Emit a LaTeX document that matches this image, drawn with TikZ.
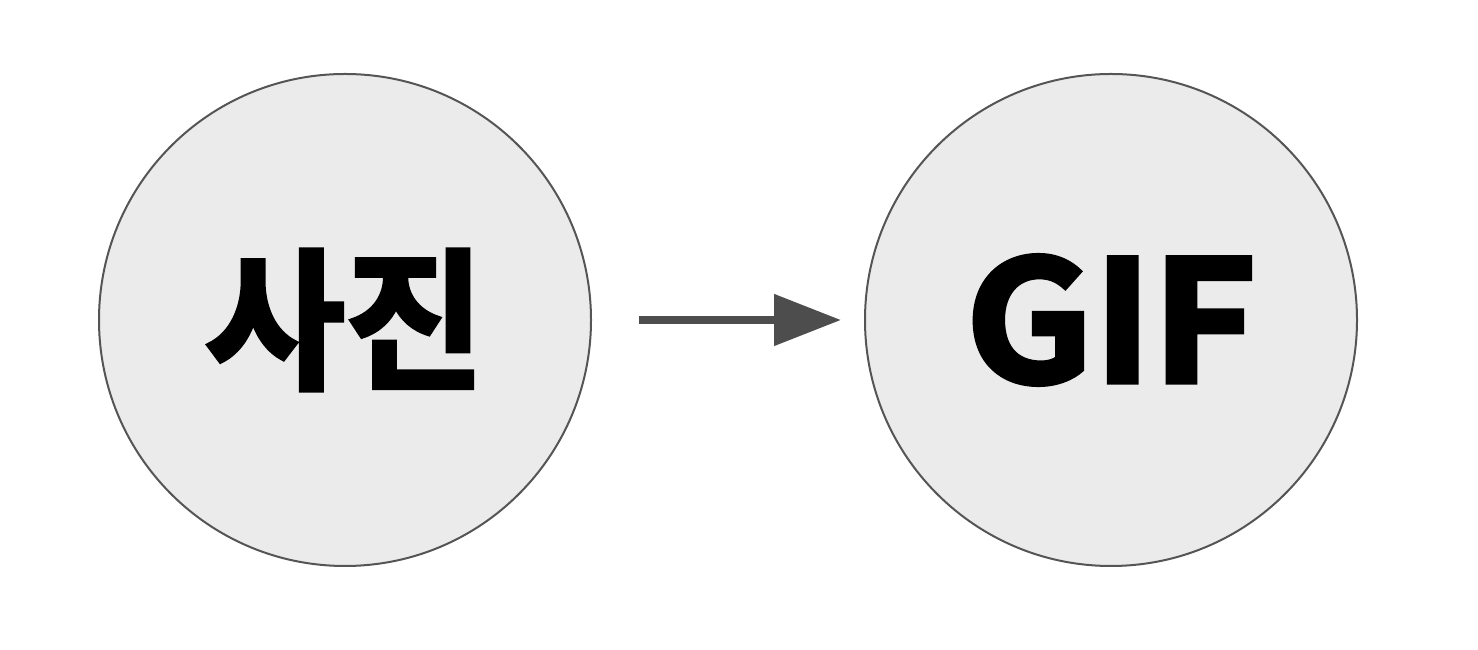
\documentclass[tikz,border=0pt]{standalone}
\usepackage{fontspec}
\usepackage{xcolor}
\usetikzlibrary{arrows.meta}
\newfontfamily\krfont{Noto Sans CJK KR Bold}[FakeBold=3]

\definecolor{ballfill}{HTML}{EBEBEB}
\definecolor{balledge}{HTML}{555555}
\definecolor{arrowgray}{HTML}{4D4D4D}

\tikzset{
    ball/.style={circle, draw=balledge, line width=2pt, fill=ballfill,
                 minimum size=492pt, inner sep=0pt, font=\krfont},
    flow/.style={draw=arrowgray, line width=8pt,
                 -{Triangle[length=67pt,width=50pt]},
                 shorten <=47pt, shorten >=23pt}
}

\begin{document}
\begin{tikzpicture}[x=1pt,y=1pt]
    \useasboundingbox (0,0) rectangle (1478,650);

    \node[ball] (photo) at (345,330) {\fontsize{152pt}{152pt}\selectfont\raisebox{4pt}{사진}};
    \node[ball] (gif) at (1111,330) {\fontsize{168pt}{168pt}\selectfont\scalebox{1.06}[1]{GIF}};

    \draw[flow] (photo) -- (gif);

\end{tikzpicture}
\end{document}
